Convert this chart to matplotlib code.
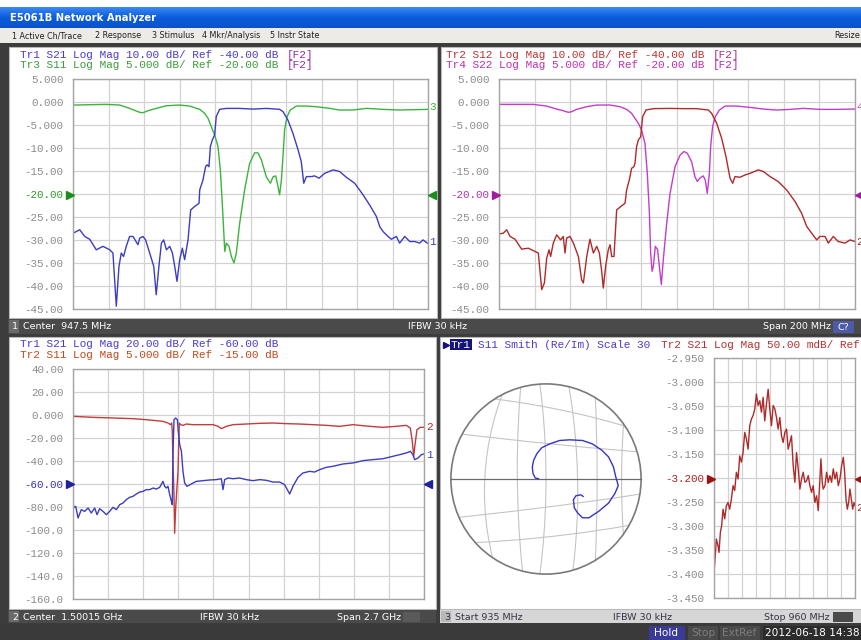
import numpy as np
import matplotlib
matplotlib.use('Agg')
import matplotlib.pyplot as plt
from matplotlib.patches import Rectangle, Circle

W, H = 862, 640
MONO = 'Liberation Mono'
SANS = 'DejaVu Sans'

# ---------------- channel 1 : 847.5 .. 1047.5 MHz ----------------
# Tr1 S21, log mag [dB]
ch1_s21_freq = [847.5, 851.3, 854.1, 856.9, 860.6, 864.4, 868.2, 870.0, 871.9, 873.4,
                874.7, 876.0, 877.5, 879.4, 881.3, 884.1, 885.1, 886.9, 888.4, 890.7,
                893.0, 894.4, 895.9, 897.3, 898.6, 900.1, 902.0, 903.5, 904.8, 906.1,
                907.6, 909.1, 910.4, 912.3, 913.8, 916.0, 918.5, 918.9, 920.7, 922.2,
                923.0, 924.1, 924.9, 926.0, 927.3, 928.2, 930.1, 933.9, 941.4, 948.9,
                956.4, 963.9, 965.8, 968.6, 971.4, 974.3, 976.1, 977.5, 979.0, 981.8,
                983.6, 986.1, 989.3, 994.0, 997.7, 1001.5, 1006.2, 1010.9, 1014.6, 1018.4,
                1020.3, 1022.1, 1025.0, 1026.8, 1029.7, 1031.5, 1034.4, 1037.2, 1040.0, 1042.8,
                1044.7, 1047.1]
ch1_s21_db = [-57.1, -55.6, -58.5, -59.7, -64.3, -62.8, -64.3, -65.7, -88.8, -71.5,
              -65.7, -67.2, -62.8, -58.5, -58.5, -62.1, -59.2, -58.5, -60.0, -65.7,
              -71.5, -83.8, -71.5, -61.4, -60.0, -64.3, -62.8, -65.7, -71.5, -78.0,
              -68.6, -63.6, -68.6, -60.0, -47.0, -45.5, -44.1, -38.3, -34.0, -28.2,
              -27.4, -28.2, -19.5, -16.6, -14.4, -6.5, -3.3, -2.9, -2.9, -3.2,
              -2.9, -3.3, -4.3, -8.0, -13.7, -20.9, -26.0, -35.4, -32.5, -32.5,
              -32.2, -33.2, -31.1, -29.6, -30.3, -32.8, -35.4, -40.4, -44.8, -49.8,
              -54.2, -56.3, -58.5, -59.7, -58.5, -61.4, -58.5, -60.7, -60.7, -61.4,
              -60.0, -61.4]

# Tr3 S11, log mag [dB]
ch1_s11_freq = [847.5, 866.3, 873.8, 879.4, 885.1, 886.9, 889.8, 894.4, 900.1, 907.6,
                913.2, 918.9, 921.7, 923.6, 925.4, 927.3, 929.2, 930.5, 931.6, 933.0,
                933.9, 935.4, 936.7, 938.2, 939.5, 941.4, 944.2, 947.0, 949.8, 951.7,
                953.6, 956.4, 958.7, 960.2, 961.7, 962.6, 963.9, 964.9, 965.8, 966.7,
                968.1, 969.9, 973.3, 978.9, 984.6, 992.1, 997.7, 1005.2, 1012.8, 1022.1,
                1031.5, 1047.1]
ch1_s11_db = [-0.72, -0.58, -0.72, -1.44, -2.31, -2.38, -1.95, -1.44, -0.87, -0.72,
              -0.94, -1.66, -2.53, -3.61, -5.42, -7.22, -9.75, -14.8, -22.0, -32.5,
              -30.7, -31.4, -33.6, -35.0, -32.9, -26.4, -19.1, -13.4, -11.1, -11.1,
              -12.6, -16.3, -17.7, -16.3, -16.1, -17.7, -20.2, -17.0, -11.9, -6.1,
              -3.25, -1.8, -0.94, -0.94, -1.08, -1.44, -1.8, -1.8, -1.44, -1.66,
              -1.8, -1.66]

# Tr2 S12, log mag [dB]
ch1_s12_freq = [847.5, 849.9, 851.8, 853.7, 856.5, 860.2, 864.0, 867.7, 869.6, 871.5,
                873.0, 874.3, 875.6, 876.5, 878.0, 879.9, 882.1, 883.6, 884.6, 885.5,
                887.4, 889.3, 892.1, 893.9, 894.9, 896.8, 898.6, 900.5, 902.4, 903.9,
                905.2, 906.1, 907.4, 908.9, 909.9, 910.8, 912.1, 913.6, 915.9, 918.3,
                919.2, 920.7, 922.0, 923.3, 923.9, 924.8, 925.8, 927.1, 928.2, 930.1,
                934.2, 943.6, 951.1, 958.5, 965.1, 967.0, 969.8, 972.6, 975.0, 977.3,
                978.8, 980.1, 982.9, 985.7, 988.5, 993.2, 996.0, 999.8, 1004.4, 1009.1,
                1013.8, 1017.5, 1020.4, 1023.2, 1026.0, 1027.8, 1030.7, 1032.5, 1035.3, 1038.1,
                1041.9, 1044.7, 1047.5]
ch1_s12_db = [-57.4, -57.1, -55.6, -58.5, -59.7, -64.0, -63.6, -65.0, -65.7, -81.6,
              -78.7, -67.9, -64.3, -67.2, -61.4, -57.8, -60.0, -58.5, -65.7, -59.2,
              -58.5, -61.4, -67.2, -77.3, -78.7, -67.2, -59.7, -65.7, -62.8, -65.7,
              -73.7, -80.9, -71.5, -64.3, -62.1, -67.2, -67.2, -47.0, -45.5, -44.1,
              -38.3, -34.0, -28.9, -28.2, -26.7, -19.5, -16.6, -15.2, -6.5, -3.6,
              -3.0, -2.9, -3.0, -3.0, -3.6, -5.1, -9.4, -15.9, -23.8, -33.2,
              -35.4, -32.5, -32.8, -31.8, -31.1, -29.6, -30.3, -32.5, -34.7, -38.3,
              -43.3, -48.4, -54.2, -57.1, -60.0, -58.5, -58.5, -61.4, -58.5, -60.7,
              -61.4, -60.0, -60.7]

# Tr4 S22, log mag [dB]
ch1_s22_freq = [847.5, 866.8, 874.3, 879.9, 883.6, 886.5, 888.3, 891.1, 896.8, 902.4,
                909.9, 915.5, 919.2, 922.0, 923.9, 925.8, 927.6, 929.5, 930.8, 932.0,
                932.7, 933.5, 934.2, 935.3, 936.6, 937.6, 938.7, 939.8, 941.7, 943.6,
                946.4, 949.2, 951.4, 953.3, 955.7, 957.6, 958.9, 960.3, 962.2, 963.4,
                964.5, 965.7, 966.4, 967.5, 969.0, 971.3, 974.5, 981.0, 988.5, 996.0,
                1003.5, 1011.0, 1018.5, 1027.8, 1037.2, 1047.5]
ch1_s22_db = [-0.58, -0.58, -0.94, -1.59, -1.95, -2.31, -2.17, -1.66, -1.08, -0.72,
              -0.72, -1.08, -1.66, -2.53, -3.61, -4.69, -6.14, -9.03, -15.5, -24.2,
              -32.9, -36.8, -35.8, -31.4, -32.1, -35.8, -39.7, -34.3, -26.4, -19.9,
              -14.1, -11.6, -10.8, -11.2, -13.0, -16.3, -17.3, -16.6, -16.1, -17.0,
              -19.9, -15.5, -9.75, -5.42, -3.25, -1.81, -0.94, -0.94, -1.23, -1.59,
              -1.81, -1.66, -1.44, -1.66, -1.66, -1.59]

# ---------------- channel 2 : 0.15015 .. 2.85015 GHz ----------------
ch2_s21_freq = [0.150, 0.171, 0.189, 0.214, 0.240, 0.266, 0.291, 0.317, 0.335, 0.355,
                0.381, 0.407, 0.432, 0.458, 0.484, 0.509, 0.535, 0.560, 0.586, 0.612,
                0.637, 0.663, 0.689, 0.714, 0.740, 0.766, 0.791, 0.817, 0.842, 0.855,
                0.868, 0.881, 0.894, 0.907, 0.914, 0.919, 0.927, 0.940, 0.953, 0.960,
                0.971, 0.984, 0.996, 1.009, 1.027, 1.060, 1.099, 1.150, 1.202, 1.253,
                1.291, 1.304, 1.317, 1.342, 1.381, 1.432, 1.483, 1.535, 1.586, 1.637,
                1.689, 1.740, 1.778, 1.817, 1.842, 1.881, 1.919, 1.971, 2.009, 2.048,
                2.099, 2.150, 2.227, 2.304, 2.381, 2.458, 2.535, 2.612, 2.663, 2.714,
                2.745, 2.765, 2.778, 2.804, 2.830, 2.850]
ch2_s21_db = [-80.9, -79.4, -89.6, -82.3, -83.8, -80.9, -85.2, -80.9, -86.7, -81.5,
              -83.8, -86.7, -83.8, -80.3, -82.3, -78.0, -76.5, -73.6, -71.6, -70.7,
              -68.7, -67.0, -66.4, -64.9, -64.9, -63.5, -64.4, -62.9, -57.7, -62.0,
              -63.5, -62.0, -69.3, -75.1, -78.0, -34.5, -4.1, -2.6, -4.1, -14.2,
              -25.8, -31.6, -49.0, -59.1, -62.0, -60.0, -57.7, -57.1, -56.5, -56.2,
              -55.4, -64.9, -56.2, -54.8, -55.4, -54.8, -56.2, -57.1, -56.2, -56.8,
              -58.3, -58.3, -60.6, -68.7, -62.0, -54.2, -50.4, -49.0, -49.6, -47.5,
              -45.5, -44.6, -42.6, -41.7, -39.7, -38.8, -38.0, -35.9, -34.5, -33.0,
              -31.6, -34.5, -38.8, -37.4, -34.5, -33.9]

ch2_s11_freq = [0.150, 0.304, 0.458, 0.612, 0.714, 0.791, 0.842, 0.881, 0.899, 0.909,
                0.914, 0.919, 0.927, 0.932, 0.940, 0.948, 0.958, 0.963, 0.968, 0.978,
                0.996, 1.022, 1.073, 1.150, 1.227, 1.266, 1.291, 1.330, 1.381, 1.483,
                1.586, 1.689, 1.791, 1.894, 1.996, 2.099, 2.201, 2.304, 2.355, 2.432,
                2.535, 2.637, 2.714, 2.745, 2.760, 2.771, 2.781, 2.796, 2.822, 2.850]
ch2_s11_db = [-0.29, -0.51, -0.65, -0.80, -1.02, -1.23, -1.38, -1.74, -2.10, -1.74,
              -3.55, -10.1, -17.3, -25.7, -20.2, -16.6, -12.3, -6.45, -1.74, -2.10,
              -2.25, -1.96, -2.10, -2.10, -2.10, -2.46, -2.97, -2.46, -2.10, -1.96,
              -1.81, -1.74, -1.88, -1.96, -2.10, -2.25, -2.46, -2.10, -2.25, -2.46,
              -2.68, -2.46, -2.25, -2.83, -5.72, -8.98, -6.45, -3.19, -2.68, -2.68]

# ---------------- channel 3 : 935 .. 960 MHz ----------------
# Tr1 S11 smith, normalised to the outer circle
ch3_s11_re = [-0.079, -0.113, -0.137, -0.144, -0.130, -0.096, -0.045, 0.041, 0.144, 0.247,
              0.384, 0.486, 0.589, 0.658, 0.709, 0.733, 0.760, 0.726, 0.658, 0.555,
              0.452, 0.384, 0.332, 0.298, 0.288, 0.315, 0.366, 0.390]
ch3_s11_im = [0.003, 0.010, 0.059, 0.128, 0.197, 0.266, 0.329, 0.370, 0.405, 0.412,
              0.405, 0.370, 0.301, 0.232, 0.128, 0.024, -0.069, -0.149, -0.253, -0.339,
              -0.408, -0.408, -0.356, -0.304, -0.218, -0.176, -0.166, -0.183]

# Tr2 S21, log mag [dB]
ch3_s21_freq = [935.00, 935.18, 935.41, 935.71, 935.89, 936.13, 936.36, 936.60, 936.90, 937.19,
                937.49, 937.78, 938.08, 938.38, 938.67, 938.97, 939.27, 939.56, 939.86, 940.15,
                940.45, 940.75, 941.04, 941.34, 941.64, 941.93, 942.23, 942.52, 942.82, 943.12,
                943.41, 943.71, 944.00, 944.30, 944.60, 944.89, 945.19, 945.49, 945.78, 946.08,
                946.37, 946.67, 946.97, 947.26, 947.56, 947.86, 948.15, 948.45, 948.74, 949.04,
                949.34, 949.63, 949.93, 950.23, 950.52, 950.82, 951.11, 951.41, 951.71, 952.00,
                952.30, 952.59, 952.89, 953.19, 953.48, 953.78, 953.96, 954.19, 954.37, 954.67,
                954.96, 955.26, 955.56, 955.85, 956.15, 956.45, 956.74, 957.04, 957.33, 957.63,
                957.93, 958.16, 958.40, 958.64, 958.87, 959.11, 959.35, 959.59, 959.82, 960.00]
ch3_s21_db = [-3.397, -3.369, -3.327, -3.341, -3.355, -3.313, -3.299, -3.265, -3.285, -3.258,
              -3.251, -3.265, -3.244, -3.216, -3.226, -3.188, -3.202, -3.154, -3.167, -3.147,
              -3.105, -3.119, -3.140, -3.091, -3.077, -3.070, -3.056, -3.025, -3.049, -3.039,
              -3.063, -3.032, -3.081, -3.046, -3.015, -3.056, -3.091, -3.049, -3.056, -3.074,
              -3.098, -3.074, -3.112, -3.126, -3.105, -3.098, -3.140, -3.126, -3.112, -3.174,
              -3.209, -3.147, -3.181, -3.223, -3.202, -3.188, -3.209, -3.206, -3.195, -3.216,
              -3.230, -3.216, -3.251, -3.237, -3.268, -3.202, -3.160, -3.209, -3.223, -3.216,
              -3.188, -3.209, -3.195, -3.209, -3.181, -3.202, -3.188, -3.216, -3.202, -3.174,
              -3.157, -3.188, -3.244, -3.265, -3.251, -3.223, -3.244, -3.265, -3.251, -3.258]

# y tick labels, top to bottom
ch1_labels = ['5.000', '0.000', '-5.000', '-10.00', '-15.00', '-20.00', '-25.00',
              '-30.00', '-35.00', '-40.00', '-45.00']
ch2_labels = ['40.00', '20.00', '0.000', '-20.00', '-40.00', '-60.00', '-80.00',
              '-100.0', '-120.0', '-140.0', '-160.0']
ch3_labels = ['-2.950', '-3.000', '-3.050', '-3.100', '-3.150', '-3.200', '-3.250',
              '-3.300', '-3.350', '-3.400', '-3.450']

C_TR1 = '#3c3cc4'
C_TR3 = '#3cb43c'
C_TR2 = '#b02a2a'
C_TR4 = '#c23ec8'
GRID = '#d2d2d2'


def rect_px(x0, y0, x1, y1):
    return [x0 / W, 1 - y1 / H, (x1 - x0) / W, (y1 - y0) / H]


fig = plt.figure(figsize=(W / 100, H / 100), dpi=100, facecolor='#3c3c3c')

# ---- window chrome ----
bg = fig.add_axes([0, 0, 1, 1])
bg.axis('off')


def box(x0, y0, x1, y1, fc, ec='none', lw=0.0, z=1):
    bg.add_patch(Rectangle((x0, y0), x1 - x0, y1 - y0, fc=fc, ec=ec, lw=lw, zorder=z))


box(0, 0, W, 7, 'white')
grad = np.linspace(0, 1, 20)[:, None]
bg.imshow(grad, extent=(0, W, 28, 7), aspect='auto', zorder=2,
          cmap=matplotlib.colors.LinearSegmentedColormap.from_list(
              'tb', ['#3a88f5', '#0b5cdc', '#0a52cc']))
box(0, 28, W, 43, '#ecebe8')
box(0, 43, W, 47, '#3c3c3c')
box(9, 47, 437, 318, 'white', ec='#b8b8b8', lw=0.8)
box(441, 47, W + 2, 318, 'white', ec='#b8b8b8', lw=0.8)
box(8, 319, W, 334, '#4a4a4a')
box(9, 320, 19, 333, '#6a6a6a')
box(9, 337, 436, 609, 'white', ec='#b8b8b8', lw=0.8)
box(440, 337, W + 2, 609, 'white', ec='#b8b8b8', lw=0.8)
box(8, 610, 436, 623, '#4a4a4a')
box(9, 611, 19, 622, '#6a6a6a')
box(440, 610, W, 623, '#d6d6d6')
box(441, 611, 451, 622, '#b8b8b8')
box(0, 624, W, H, '#3a3a3a')
box(833, 321, 854, 333, '#4c5aa8')
box(403, 612, 420, 622, '#5a5a5a')
box(833, 612, 853, 622, '#4a4a4a')
box(649, 626, 685, 640, '#3a3a98')
box(688, 626, 718, 640, '#4a4a4a')
box(720, 626, 760, 640, '#4a4a4a')
box(763, 626, W, 640, '#2c2c2c')
bg.set_xlim(0, W)
bg.set_ylim(H, 0)

bg.text(10, 18, 'E5061B Network Analyzer', color='white', fontsize=7.2,
        fontweight='bold', family=SANS, va='center', zorder=5)
for x, s in [(12, '1 Active Ch/Trace'), (95, '2 Response'), (152, '3 Stimulus'),
             (202, '4 Mkr/Analysis'), (270, '5 Instr State'), (834, 'Resize')]:
    bg.text(x, 36, s, fontsize=5.8, family=SANS, color='#202020', va='center')

st = dict(fontsize=6.8, family=SANS, va='center', color='white')
bg.text(12, 326.5, '1', **st)
bg.text(23, 326.5, 'Center  947.5 MHz', **st)
bg.text(408, 326.5, 'IFBW 30 kHz', **st)
bg.text(763, 326.5, 'Span 200 MHz', **st)
bg.text(838, 327, 'C?', **st)
bg.text(12, 617, '2', **st)
bg.text(23, 617, 'Center  1.50015 GHz', **st)
bg.text(200, 617, 'IFBW 30 kHz', **st)
bg.text(337, 617, 'Span 2.7 GHz', **st)
st3 = dict(st, color='#33334a')
bg.text(444, 617, '3', **st3)
bg.text(455, 617, 'Start 935 MHz', **st3)
bg.text(613, 617, 'IFBW 30 kHz', **st3)
bg.text(764, 617, 'Stop 960 MHz', **st3)
bg.text(654, 633, 'Hold', **dict(st, fontsize=7.6))
bg.text(691, 633, 'Stop', **dict(st, fontsize=7.6, color='#7c7c7c'))
bg.text(722, 633, 'ExtRef', **dict(st, fontsize=7.6, color='#7c7c7c'))
bg.text(765, 633, '2012-06-18 14:38', **dict(st, fontsize=7.6))

# ---- trace headers ----
hd = dict(fontsize=8, family=MONO, va='center')
CW = 0.6 * 8 * 100 / 72
bg.text(20, 55, 'Tr1 S21 Log Mag 10.00 dB/ Ref -40.00 dB', color='#4a3ccc', **hd)
bg.text(20 + 40 * CW, 55, '[F2]', color='#9a2ca8', **hd)
bg.text(20, 65.5, 'Tr3 S11 Log Mag 5.000 dB/ Ref -20.00 dB', color='#3c9c3c', **hd)
bg.text(20 + 40 * CW, 65.5, '[F2]', color='#9a2ca8', **hd)
bg.text(446, 55, 'Tr2 S12 Log Mag 10.00 dB/ Ref -40.00 dB', color='#c03434', **hd)
bg.text(446 + 40 * CW, 55, '[F2]', color='#b02c80', **hd)
bg.text(446, 65.5, 'Tr4 S22 Log Mag 5.000 dB/ Ref -20.00 dB', color='#c030b4', **hd)
bg.text(446 + 40 * CW, 65.5, '[F2]', color='#b02cb0', **hd)
bg.text(20, 344, 'Tr1 S21 Log Mag 20.00 dB/ Ref -60.00 dB', color='#4a3ccc', **hd)
bg.text(20, 354.5, 'Tr2 S11 Log Mag 5.000 dB/ Ref -15.00 dB', color='#c04a1c', **hd)
bg.text(451, 344.5, 'Tr1', color='white', zorder=6,
        bbox=dict(boxstyle='square,pad=0.08', fc='#14147a', ec='none'), **hd)
bg.text(451 + 4 * CW, 344.5, 'S11 Smith (Re/Im) Scale 30', color='#4a3ccc', **hd)
bg.text(661, 344.5, 'Tr2 S21 Log Mag 50.00 mdB/ Ref', color='#b83030', **hd)
bg.plot(446, 344.5, marker='>', ms=5, color='#14147a', zorder=6)


def trace_axes(x0, y0, x1, y1, xlim, ytop, ystep, labels, ref_i, ref_color):
    ax = fig.add_axes(rect_px(x0, y0, x1, y1))
    ybot = ytop - 10 * ystep
    ax.set_xlim(xlim)
    ax.set_ylim(ybot, ytop)
    ax.set_xticks(np.linspace(xlim[0], xlim[1], 11))
    ax.set_xticklabels([])
    ax.set_yticks([ytop - i * ystep for i in range(10, -1, -1)])
    ax.set_yticklabels(labels[::-1], family=MONO, fontsize=7.8, color='#8c8c8c')
    ax.get_yticklabels()[10 - ref_i].set_color(ref_color)
    ax.tick_params(length=0, pad=6.8)
    ax.grid(True, color=GRID, lw=0.9)
    for s in ax.spines.values():
        s.set_color('#a4a4a4')
        s.set_linewidth(1.0)
    return ax


# top-left: Tr1 (10 dB/div, ref -40) on Tr3 scale (5 dB/div, ref -20)
ax1 = trace_axes(73, 78.7, 428, 309, (847.5, 1047.5), 5.0, 5.0, ch1_labels, 5, '#2a9a2a')
ax1.plot(ch1_s11_freq, ch1_s11_db, color=C_TR3, lw=1.0)
ax1.plot(ch1_s21_freq, -20 + (np.array(ch1_s21_db) + 40) / 2, color=C_TR1, lw=1.0)

ax2 = trace_axes(499, 78.7, 855, 309, (847.5, 1047.5), 5.0, 5.0, ch1_labels, 5, '#b030b0')
ax2.plot(ch1_s22_freq, ch1_s22_db, color=C_TR4, lw=1.0)
ax2.plot(ch1_s12_freq, -20 + (np.array(ch1_s12_db) + 40) / 2, color=C_TR2, lw=1.0)

# bottom-left: Tr1 20 dB/div ref -60 ; Tr2 5 dB/div ref -15
ax3 = trace_axes(73, 369, 424, 599, (0.15015, 2.85015), 40.0, 20.0, ch2_labels, 5, '#3434b8')
ax3.plot(ch2_s11_freq, -60 + (np.array(ch2_s11_db) + 15) * 4, color='#c23c3c', lw=1.0)
ax3.plot(ch2_s21_freq, ch2_s21_db, color=C_TR1, lw=1.0)

# bottom-right: Tr2 S21 50 mdB/div
ax4 = trace_axes(714, 358, 855, 598, (935, 960), -2.95, 0.05, ch3_labels, 5, '#b02020')
ax4.plot(ch3_s21_freq, ch3_s21_db, color=C_TR2, lw=1.0)

# smith chart
sm = fig.add_axes(rect_px(546 - 97, 479 - 97, 546 + 97, 479 + 97))
sm.set_xlim(-1.02, 1.02)
sm.set_ylim(-1.02, 1.02)
sm.axis('off')
clip = Circle((0, 0), 1.0, transform=sm.transData)


def circ3(p1, p2, p3):
    (ax_, ay), (bx, by), (cx, cy) = p1, p2, p3
    d = 2 * (ax_ * (by - cy) + bx * (cy - ay) + cx * (ay - by))
    ux = ((ax_**2 + ay**2) * (by - cy) + (bx**2 + by**2) * (cy - ay) + (cx**2 + cy**2) * (ay - by)) / d
    uy = ((ax_**2 + ay**2) * (cx - bx) + (bx**2 + by**2) * (ax_ - cx) + (cx**2 + cy**2) * (bx - ax_)) / d
    return (ux, uy), np.hypot(ax_ - ux, ay - uy)


def zg(zx, zy):
    return ((zx - 318) / 292.0, -(zy - 417) / 289.0)


arcs = [
    [(180, 170), (130, 417), (150, 640)],
    [(240, 140), (230, 417), (245, 690)],
    [(300, 135), (318, 417), (300, 700)],
    [(390, 145), (415, 417), (400, 700)],
    [(470, 180), (475, 417), (470, 655)],
    [(555, 265), (550, 417), (555, 575)],
    [(170, 175), (400, 215), (590, 265)],
    [(55, 280), (330, 310), (605, 335)],
    [(35, 535), (300, 505), (560, 470)],
    [(110, 610), (350, 590), (590, 555)],
]
for a in arcs:
    c, r = circ3(*[zg(*p) for p in a])
    ring = Circle(c, r, fill=False, ec='#c4c4c4', lw=0.8)
    sm.add_patch(ring)
    ring.set_clip_path(clip)
sm.plot([-1, 1], [0, 0], color='#6a6a6a', lw=0.9)
sm.add_patch(Circle((0, 0), 1.0, fill=False, ec='#7a7a7a', lw=1.2))
sm.plot(ch3_s11_re, ch3_s11_im, color='#3434c8', lw=1.0)

# ---- trace end labels and reference markers ----
ov = fig.add_axes([0, 0, 1, 1])
ov.patch.set_alpha(0)
ov.axis('off')
ov.set_xlim(0, W)
ov.set_ylim(H, 0)
lb = dict(fontsize=8, family=MONO, va='center')
ov.text(429, 107, '3', color=C_TR3, **lb)
ov.text(429, 242, '1', color=C_TR1, **lb)
ov.text(856, 107, '4', color=C_TR4, **lb)
ov.text(856, 242, '2', color=C_TR2, **lb)
ov.text(426, 427, '2', color=C_TR2, **lb)
ov.text(426, 455, '1', color=C_TR1, **lb)
ov.text(856, 508, '2', color=C_TR2, **lb)
mk = dict(ms=6, clip_on=False, ls='none')
ov.plot(70, 195, marker='>', color='#1c8c1c', **mk)
ov.plot(432, 195, marker='<', color='#1c8c1c', **mk)
ov.plot(496, 195, marker='>', color='#a01ca0', **mk)
ov.plot(859, 195, marker='<', color='#a01ca0', **mk)
ov.plot(70, 484, marker='>', color='#20209a', **mk)
ov.plot(428, 484, marker='<', color='#20209a', **mk)
ov.plot(711, 479, marker='>', color='#9a1414', **mk)
ov.plot(859, 479, marker='<', color='#9a1414', **mk)

fig.savefig('out.png', dpi=100, facecolor=fig.get_facecolor())
